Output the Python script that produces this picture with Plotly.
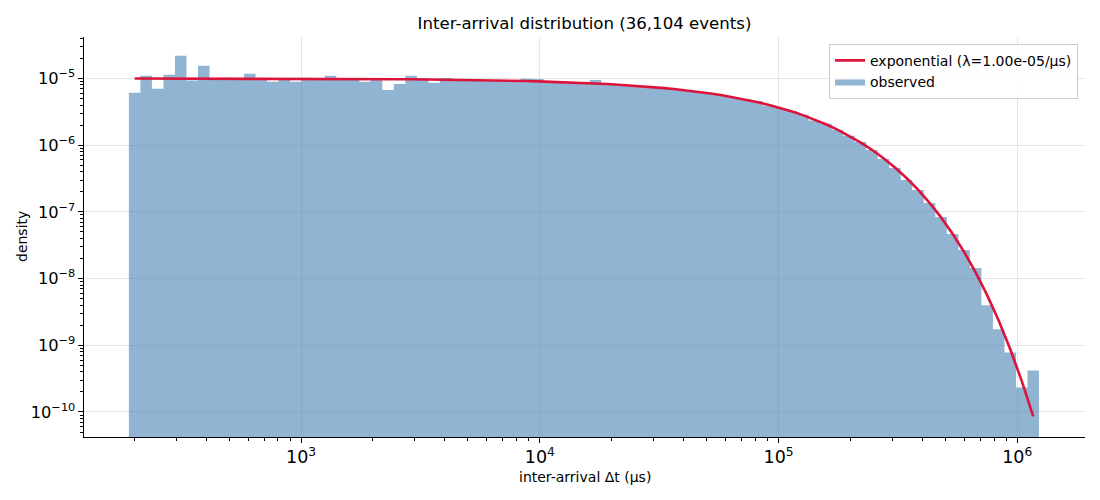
import numpy as np
import plotly.graph_objects as go

# histogram binning: 79 log-spaced bins
BIN_MIN = 190.0        # us
BIN_MAX = 1.233e6      # us
N_BINS = 79
N_EVENTS = 36104
LAMBDA = 1.00e-05      # per us, fitted rate

# observed density per bin (left to right)
density = [
  6.1e-6, 1.1e-5, 7.0e-6, 1.14e-5, 2.19e-5, 9.3e-6, 1.55e-5, 1.02e-5, 1.03e-5, 1.02e-5,
  1.18e-5, 1.0e-5, 8.9e-6, 9.8e-6, 8.9e-6, 1.03e-5, 1.0e-5, 1.1e-5, 1.0e-5, 1.01e-5,
  8.9e-6, 1.0e-5, 6.7e-6, 8.3e-6, 1.1e-5, 9.9e-6, 8.6e-6, 1.02e-5, 9.6e-6, 9.4e-6,
  9.5e-6, 9.3e-6, 9.4e-6, 9.2e-6, 9.9e-6, 9.8e-6, 9.0e-6, 8.8e-6, 8.7e-6, 8.5e-6,
  9.5e-6, 8.2e-6, 8.1e-6, 7.8e-6, 7.7e-6, 7.4e-6, 7.2e-6, 6.9e-6, 6.5e-6, 6.3e-6,
  5.9e-6, 5.6e-6, 5.2e-6, 4.9e-6, 4.55e-6, 3.95e-6, 3.6e-6, 3.25e-6, 2.85e-6, 2.34e-6,
  2.09e-6, 1.70e-6, 1.39e-6, 1.12e-6, 8.5e-7, 6.2e-7, 4.55e-7, 3.0e-7, 2.13e-7, 1.36e-7,
  8.4e-8, 4.66e-8, 2.68e-8, 1.44e-8, 4.0e-9, 1.74e-9, 7.8e-10, 2.33e-10, 4.2e-10,
]

edges = np.logspace(np.log10(BIN_MIN), np.log10(BIN_MAX), N_BINS + 1)
centers = np.sqrt(edges[:-1] * edges[1:])
fit = LAMBDA * np.exp(-LAMBDA * centers)

# step outline of the histogram, closed below the visible range
floor = 1e-13
hx = [edges[0]]
hy = [floor]
for i, d in enumerate(density):
  hx += [edges[i], edges[i + 1]]
  hy += [d, d]
hx.append(edges[-1])
hy.append(floor)

FONT = "DejaVu Sans"

fig = go.Figure()
fig.add_trace(go.Scatter(x=hx, y=hy, mode='lines', fill='toself',
                         fillcolor='rgba(70,130,180,0.6)',
                         line=dict(width=0, color='rgba(70,130,180,0.6)'),
                         name='observed', legendrank=2, hoverinfo='skip'))
fig.add_trace(go.Scatter(x=centers, y=fit, mode='lines',
                         line=dict(color='#DC143C', width=2.6),
                         name='exponential (λ=%.2e/μs)' % LAMBDA, legendrank=1))

axis_style = dict(type='log', showline=True, linecolor='black', linewidth=1.1,
                  ticks='outside', ticklen=5, tickwidth=1.1, tickcolor='black',
                  showgrid=True, gridcolor='#e6e6e6', gridwidth=1,
                  zeroline=False, dtick=1, exponentformat='power',
                  automargin=False,
                  minor=dict(ticks='outside', ticklen=3, tickwidth=0.8,
                             tickcolor='black', showgrid=False, dtick='D1'))

fig.update_layout(
  width=1100, height=500,
  paper_bgcolor='white', plot_bgcolor='white',
  margin=dict(l=84, r=15, t=37, b=63),
  font=dict(family=FONT, size=14, color='black'),
  title=dict(text='Inter-arrival distribution (%s events)' % format(N_EVENTS, ','),
             x=0.5, xref='paper', y=1 - 23 / 500, yref='container',
             yanchor='middle', font=dict(family=FONT, size=16.6, color='black')),
  xaxis=dict(axis_style, range=[2.0908, 6.2837],
             tickfont=dict(family=FONT, size=14, color='black')),
  yaxis=dict(axis_style, range=[-10.375, -4.378],
             tickfont=dict(family=FONT, size=13, color='black')),
  legend=dict(x=0.993, y=0.983, xanchor='right', yanchor='top',
              bgcolor='rgba(255,255,255,0.8)', bordercolor='#cccccc',
              borderwidth=1, font=dict(family=FONT, size=14),
              tracegroupgap=2),
  showlegend=True,
)

# axis titles placed like the reference
fig.add_annotation(text='inter-arrival Δt (μs)', xref='paper', yref='paper',
                   x=0.5, y=-40 / 400, xanchor='center', yanchor='middle',
                   showarrow=False, font=dict(family=FONT, size=14))
fig.add_annotation(text='density', xref='paper', yref='paper',
                   x=-62 / 1001, y=0.5, xanchor='center', yanchor='middle',
                   textangle=-90, showarrow=False, font=dict(family=FONT, size=14))

fig.write_html("out.html", config={'displayModeBar': False},
               post_script="document.body.style.margin='0';")
